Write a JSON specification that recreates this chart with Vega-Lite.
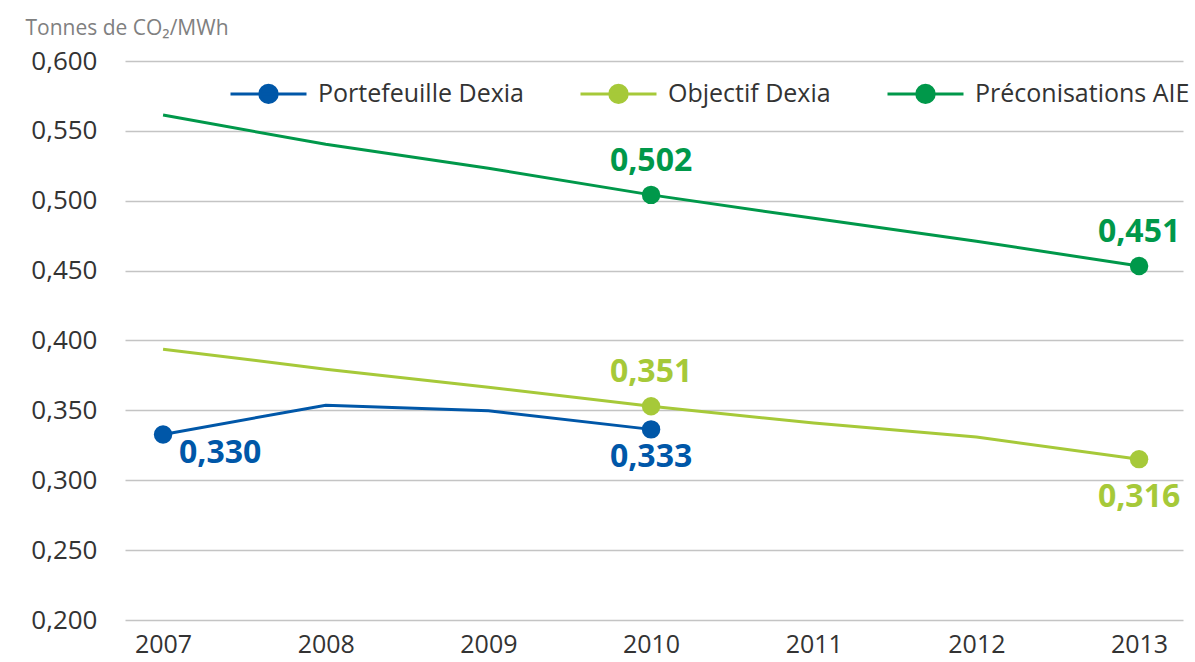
{
  "$schema": "https://vega.github.io/schema/vega-lite/v6.json",
  "autosize": {"type": "none"},
  "padding": {"left": 125, "top": 61, "right": 12, "bottom": 42},
  "width": 1058,
  "height": 559,
  "background": "white",
  "config": {
    "font": "Open Sans",
    "view": {"stroke": null}
  },
  "data": {
    "values": [
      {"series": "Portefeuille Dexia", "year": 2007, "value": 0.3328, "label": "0,330"},
      {"series": "Portefeuille Dexia", "year": 2008, "value": 0.3537, "label": null},
      {"series": "Portefeuille Dexia", "year": 2009, "value": 0.3497, "label": null},
      {"series": "Portefeuille Dexia", "year": 2010, "value": 0.3364, "label": "0,333"},
      {"series": "Objectif Dexia", "year": 2007, "value": 0.3938, "label": null},
      {"series": "Objectif Dexia", "year": 2008, "value": 0.3795, "label": null},
      {"series": "Objectif Dexia", "year": 2009, "value": 0.3666, "label": null},
      {"series": "Objectif Dexia", "year": 2010, "value": 0.353, "label": "0,351"},
      {"series": "Objectif Dexia", "year": 2011, "value": 0.3409, "label": null},
      {"series": "Objectif Dexia", "year": 2012, "value": 0.3309, "label": null},
      {"series": "Objectif Dexia", "year": 2013, "value": 0.3151, "label": "0,316"},
      {"series": "Préconisations AIE", "year": 2007, "value": 0.5613, "label": null},
      {"series": "Préconisations AIE", "year": 2008, "value": 0.5404, "label": null},
      {"series": "Préconisations AIE", "year": 2009, "value": 0.5232, "label": null},
      {"series": "Préconisations AIE", "year": 2010, "value": 0.5042, "label": "0,502"},
      {"series": "Préconisations AIE", "year": 2011, "value": 0.4874, "label": null},
      {"series": "Préconisations AIE", "year": 2012, "value": 0.471, "label": null},
      {"series": "Préconisations AIE", "year": 2013, "value": 0.4533, "label": "0,451"}
    ]
  },
  "encoding": {
    "x": {
      "field": "year",
      "type": "quantitative",
      "scale": {"domain": [2006.766, 2013.27], "nice": false, "zero": false},
      "axis": {
        "title": null,
        "values": [2007, 2008, 2009, 2010, 2011, 2012, 2013],
        "format": "d",
        "grid": false,
        "domain": false,
        "ticks": false,
        "labelFontSize": 25,
        "labelColor": "#333333",
        "labelPadding": 12,
        "labelBaseline": "top",
        "labelFlush": false
      }
    },
    "y": {
      "field": "value",
      "type": "quantitative",
      "scale": {"domain": [0.2, 0.6], "nice": false, "zero": false},
      "axis": {
        "title": "Tonnes de CO₂/MWh",
        "titleAngle": 0,
        "titleAlign": "left",
        "titleBaseline": "middle",
        "titleX": -100,
        "titleY": -33,
        "titleFontSize": 21,
        "titleFontWeight": "normal",
        "titleColor": "#808080",
        "values": [0.2, 0.25, 0.3, 0.35, 0.4, 0.45, 0.5, 0.55, 0.6],
        "labelExpr": "replace(format(datum.value, '.3f'), '.', ',')",
        "grid": true,
        "gridColor": "#c4c4c4",
        "gridWidth": 1.3,
        "domain": false,
        "ticks": false,
        "labelFontSize": 26,
        "labelColor": "#333333",
        "labelPadding": 28,
        "labelBaseline": "middle"
      }
    },
    "color": {
      "field": "series",
      "type": "nominal",
      "scale": {
        "domain": ["Portefeuille Dexia", "Objectif Dexia", "Préconisations AIE"],
        "range": ["#0057a8", "#a6c939", "#00984a"]
      },
      "legend": null
    }
  },
  "layer": [
    {
      "mark": {"type": "line", "strokeWidth": 3},
      "encoding": {
        "color": {
          "field": "series",
          "type": "nominal",
          "scale": {
            "domain": ["Portefeuille Dexia", "Objectif Dexia", "Préconisations AIE"],
            "range": ["#0057a8", "#a6c939", "#00984a"]
          },
          "legend": {
            "title": null,
            "orient": "none",
            "legendX": 104,
            "legendY": -7,
            "direction": "horizontal",
            "columns": 3,
            "columnPadding": 50,
            "padding": 0,
            "symbolType": "M-1,0L1,0M0.23,0A0.23,0.23,0,1,1,-0.23,0A0.23,0.23,0,1,1,0.23,0Z",
            "symbolSize": 5776,
            "symbolStrokeWidth": 3,
            "labelFontSize": 25,
            "labelColor": "#333333",
            "labelOffset": 10,
            "labelLimit": 400,
            "encode": {
              "symbols": {
                "update": {
                  "fill": {"scale": "color", "field": "value"},
                  "stroke": {"scale": "color", "field": "value"},
                  "opacity": {"value": 1}
                }
              }
            }
          }
        }
      }
    },
    {
      "transform": [{"filter": "datum.label != null"}],
      "mark": {"type": "point", "filled": true, "size": 340, "opacity": 1, "shape": "circle"}
    },
    {
      "transform": [{"filter": "datum.label != null && (datum.series == 'Préconisations AIE' || (datum.series == 'Objectif Dexia' && datum.year == 2010))"}],
      "mark": {"type": "text", "fontSize": 32, "fontWeight": "bold", "align": "center", "baseline": "middle", "dy": -34},
      "encoding": {"text": {"field": "label"}}
    },
    {
      "transform": [{"filter": "datum.series == 'Portefeuille Dexia' && datum.year == 2010"}],
      "mark": {"type": "text", "fontSize": 32, "fontWeight": "bold", "align": "center", "baseline": "middle", "dy": 28},
      "encoding": {"text": {"field": "label"}}
    },
    {
      "transform": [{"filter": "datum.series == 'Objectif Dexia' && datum.year == 2013"}],
      "mark": {"type": "text", "fontSize": 32, "fontWeight": "bold", "align": "center", "baseline": "middle", "dy": 38},
      "encoding": {"text": {"field": "label"}}
    },
    {
      "transform": [{"filter": "datum.series == 'Portefeuille Dexia' && datum.year == 2007"}],
      "mark": {"type": "text", "fontSize": 32, "fontWeight": "bold", "align": "left", "baseline": "middle", "dx": 16, "dy": 19},
      "encoding": {"text": {"field": "label"}}
    }
  ]
}
